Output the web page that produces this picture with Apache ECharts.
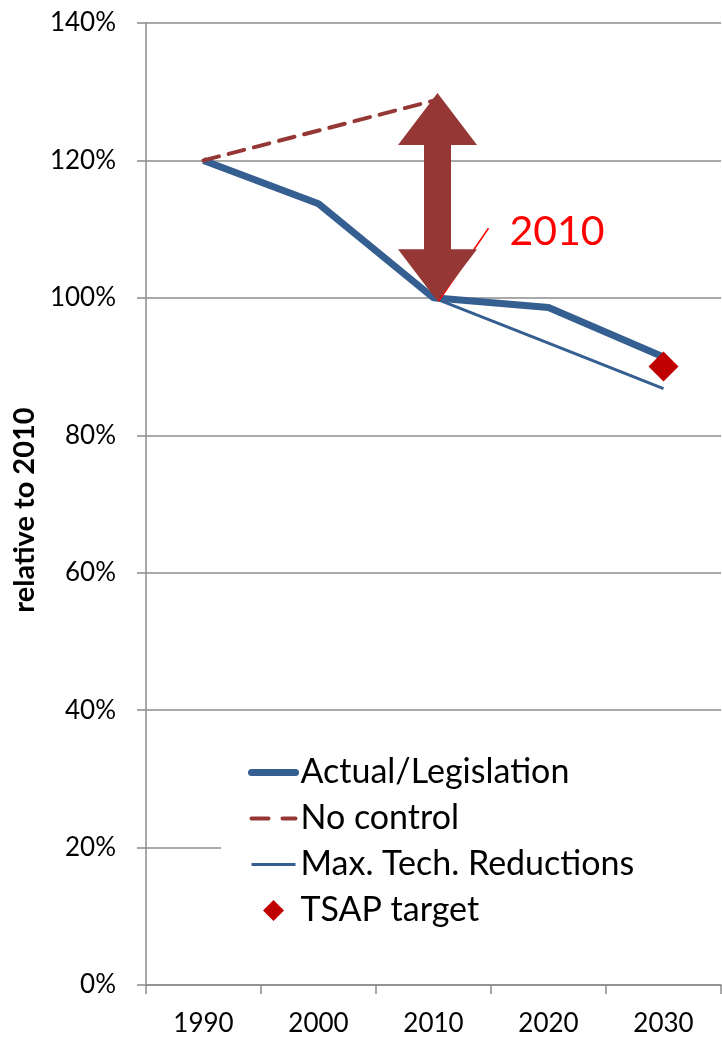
<!DOCTYPE html>
<html>
<head>
<meta charset="utf-8">
<script src="https://cdn.jsdelivr.net/npm/echarts@6/dist/echarts.min.js"></script>
<style>
  html, body { margin: 0; padding: 0; background: #fff; }
  #chart { width: 722px; height: 1039px; }
</style>
</head>
<body>
<div id="chart"></div>
<script>
// Emission index, relative to 2010 (= 100 %)
const years = ['1990', '2000', '2010', '2020', '2030'];
const actualLegislation = [120, 113.7, 100, 98.6, 91.4];
const noControl = [120, null, 128.7, null, null];
const maxTechReductions = [null, null, 100, 93.4, 86.8];
const tsapTarget = [null, null, null, null, 90.0];

// y axis scale (percent)
const yMin = 0, yMax = 140, yStep = 20;

// double arrow showing the gap between "no control" and actual in 2010
const gapYear = '2010';
const gapLow = 99.5;
const gapHigh = 129.8;
const calloutText = '2010';

const BLUE = '#365F91';
const DARK_RED = '#953735';
const TARGET_RED = '#C00000';
const AXIS_GREY = '#8C8C8C';
const FONT = 'Lato, "Open Sans", sans-serif';

// legend marker: a 21px diamond centred in the 44x21 legend icon box
// (the two zero-length segments pin the box corners so the diamond keeps its shape)
const DIAMOND_ICON = 'path://M0,0L0,0M44,21L44,21M22,0L32.5,10.5L22,21L11.5,10.5Z';

const chart = echarts.init(document.getElementById('chart'), null, { renderer: 'canvas' });

chart.setOption({
  animation: false,
  backgroundColor: '#fff',
  grid: { left: 146, right: 1, top: 23, bottom: 54 },
  xAxis: {
    type: 'category',
    data: years,
    boundaryGap: true,
    axisLine: { lineStyle: { color: AXIS_GREY, width: 1.5 } },
    axisTick: { show: true, length: 9, lineStyle: { color: AXIS_GREY, width: 1.5 } },
    axisLabel: { margin: 26, color: '#000', fontFamily: FONT, fontSize: 26 },
    splitLine: { show: false }
  },
  yAxis: {
    type: 'value',
    min: yMin, max: yMax, interval: yStep,
    name: 'relative to 2010',
    nameLocation: 'middle',
    nameGap: 106,
    nameTextStyle: { color: '#000', fontFamily: FONT, fontSize: 29, fontWeight: 'bold', padding: [0, 12, 0, 0] },
    axisLine: { show: true, lineStyle: { color: AXIS_GREY, width: 1.5 } },
    axisTick: { show: true, length: 9, lineStyle: { color: AXIS_GREY, width: 1.5 } },
    axisLabel: { margin: 30, color: '#000', fontFamily: FONT, fontSize: 26, formatter: '{value}%' },
    splitLine: { show: true, lineStyle: { color: AXIS_GREY, width: 1.5 } }
  },
  legend: {
    orient: 'vertical',
    left: 221, top: 743,
    padding: [9, 100, 12, 27],
    backgroundColor: '#fff',
    itemWidth: 44, itemHeight: 21, itemGap: 5,
    textStyle: { color: '#000', fontFamily: FONT, fontSize: 34, lineHeight: 41 },
    data: [
      { name: 'Actual/Legislation', itemStyle: { opacity: 0 },
        lineStyle: { color: BLUE, width: 7, cap: 'round' } },
      { name: 'No control', itemStyle: { opacity: 0 },
        lineStyle: { color: DARK_RED, width: 4, type: [17, 14], cap: 'round' } },
      { name: 'Max. Tech. Reductions', itemStyle: { opacity: 0 },
        lineStyle: { color: BLUE, width: 3 } },
      { name: 'TSAP target', icon: DIAMOND_ICON, itemStyle: { color: TARGET_RED } }
    ],
    z: 20
  },
  series: [
    {
      name: 'Max. Tech. Reductions', type: 'line', data: maxTechReductions,
      symbol: 'none', lineStyle: { color: BLUE, width: 3 }, itemStyle: { color: BLUE },
      z: 3
    },
    {
      name: 'Actual/Legislation', type: 'line', data: actualLegislation,
      symbol: 'none', lineStyle: { color: BLUE, width: 7 }, itemStyle: { color: BLUE },
      z: 4
    },
    {
      name: 'No control', type: 'line', data: noControl, connectNulls: true,
      symbol: 'none', lineStyle: { color: DARK_RED, width: 4, type: [16, 10], cap: 'round' },
      itemStyle: { color: DARK_RED },
      z: 4
    },
    {
      name: 'TSAP target', type: 'line', data: tsapTarget,
      symbol: 'diamond', symbolSize: 30, showSymbol: true,
      lineStyle: { width: 0 }, itemStyle: { color: TARGET_RED },
      z: 6
    }
  ]
});

// Annotation: arrow spanning the 2010 gap plus its callout
function drawAnnotation() {
  const top = chart.convertToPixel({ gridIndex: 0 }, [gapYear, gapHigh]);
  const bot = chart.convertToPixel({ gridIndex: 0 }, [gapYear, gapLow]);
  const cx = top[0] + 4;
  const yT = top[1], yB = bot[1];
  const headLen = 52, headHalf = 39.5, shaftHalf = 13.5;
  const pts = [
    [cx, yT],
    [cx + headHalf, yT + headLen],
    [cx + shaftHalf, yT + headLen],
    [cx + shaftHalf, yB - headLen],
    [cx + headHalf, yB - headLen],
    [cx, yB],
    [cx - headHalf, yB - headLen],
    [cx - shaftHalf, yB - headLen],
    [cx - shaftHalf, yT + headLen],
    [cx - headHalf, yT + headLen]
  ];
  chart.setOption({
    graphic: [
      {
        type: 'line', z: 50,
        shape: { x1: cx + 1, y1: yB, x2: cx + 51, y2: yB - 73 },
        style: { stroke: '#FF0000', lineWidth: 1.5 }
      },
      {
        type: 'polygon', z: 60,
        shape: { points: pts },
        style: { fill: DARK_RED }
      },
      {
        type: 'text', z: 60,
        x: cx + 72, y: yB - 70,
        style: {
          text: calloutText, fill: '#FF0000',
          font: '41px ' + FONT,
          textAlign: 'left', textVerticalAlign: 'middle'
        }
      }
    ]
  });
}
drawAnnotation();
</script>
</body>
</html>
